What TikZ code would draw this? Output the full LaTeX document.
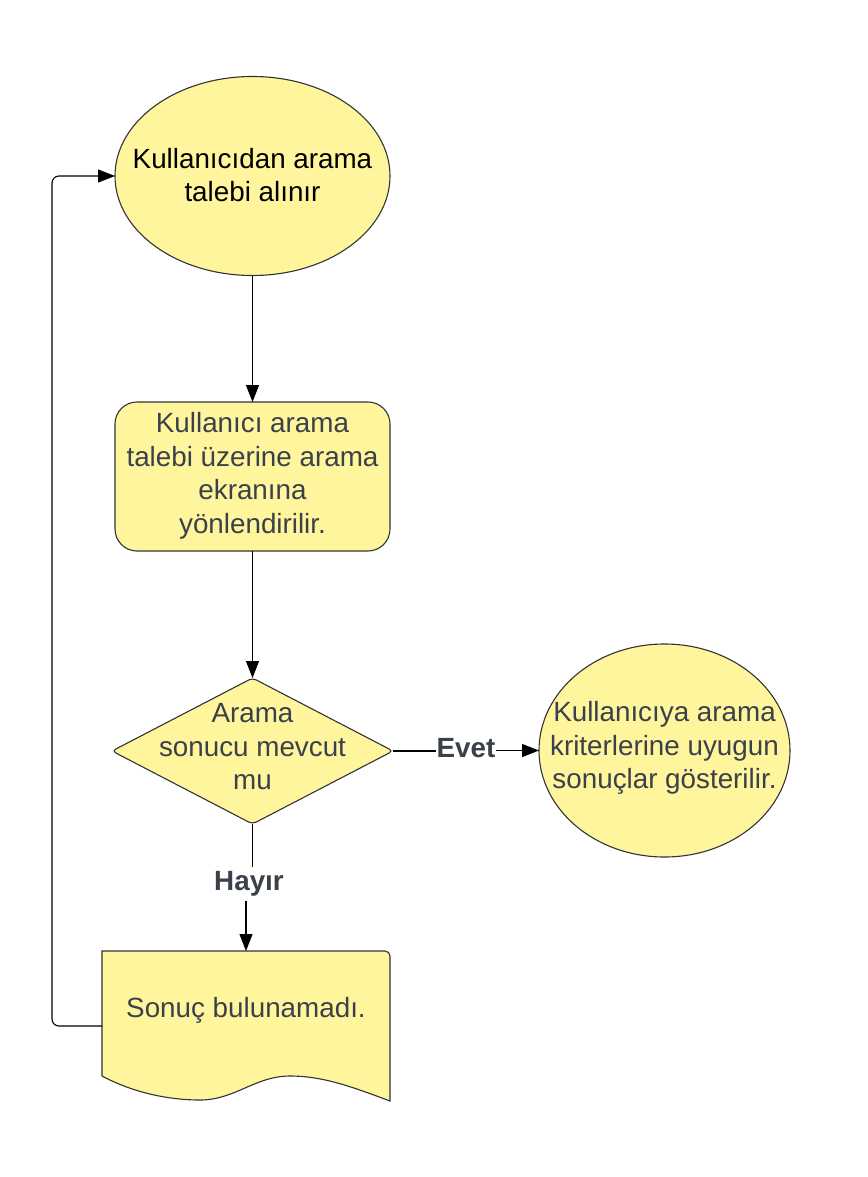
\documentclass[tikz,border=0pt]{standalone}
\usepackage{fontspec}
\setmainfont{Liberation Sans}
\usetikzlibrary{shapes.geometric,arrows.meta}
\definecolor{shapefill}{RGB}{255,245,157}
\definecolor{shapeline}{RGB}{51,51,51}
\definecolor{txtgray}{RGB}{58,65,74}
\tikzset{
  shapebase/.style={draw=shapeline, line width=1.1pt, fill=shapefill, inner sep=0pt, outer sep=0pt},
  txt/.style={align=center, text=txtgray, inner sep=0pt, font=\fontsize{27.8}{33.5}\selectfont},
  lbl/.style={text=txtgray, inner sep=0.5pt, font=\fontsize{27.8}{33.5}\selectfont\bfseries},
  conn/.style={draw=black, line width=1.1pt},
  arr/.style={conn, -{Triangle[length=17pt,width=13pt]}}
}
\begin{document}
\begin{tikzpicture}[x=1pt,y=-1pt]
\useasboundingbox (0,0) rectangle (867,1177);
\fill[white] (0,0) rectangle (867,1177);

% start ellipse
\node[shapebase, ellipse, minimum width=275pt, minimum height=199pt] (e) at (252.5,176) {};
\node[txt, text=black] (et) at (252.5,175) {Kullanıcıdan arama\\talebi alınır};

% rounded rectangle
\node[shapebase, rectangle, rounded corners=22pt, minimum width=275pt, minimum height=149pt] (r) at (252.5,476.5) {};
\node[txt] (rt) at (252.5,476) {Kullanıcı arama\\talebi üzerine arama\\ekranına\\yönlendirilir.};

% decision diamond
\node[shapebase, diamond, rounded corners=4pt, minimum width=281pt, minimum height=146pt] (d) at (252.5,751) {};
\node[txt] (dt) at (252.5,747) {Arama\\sonucu mevcut\\mu};

% result circle
\node[shapebase, ellipse, minimum width=251pt, minimum height=213pt] (c) at (664.5,750.5) {};
\node[txt] (ct) at (664.5,748) {Kullanıcıya arama\\kriterlerine uyugun\\sonuçlar gösterilir.};

% document shape
\node[rectangle, draw=none, inner sep=0pt, outer sep=0pt, minimum width=288pt, minimum height=150pt] (doc) at (246,1026) {};
\draw[shapebase] (102,1076) -- (102,951) [rounded corners=5pt] -- (390,951) [sharp corners] -- (390,1101)
  .. controls (350,1086) and (322,1076) .. (290,1076)
  .. controls (255,1076) and (235,1100) .. (200,1100)
  .. controls (165,1100) and (130,1091) .. (102,1076) -- cycle;
\node[txt] (doct) at (246,1010) {Sonuç bulunamadı.};

% labels
\node[lbl] (ev) at (466,748) {Evet};
\node[lbl, minimum height=33pt, inner sep=0pt] (hay) at (249,884) {Hayır};

% connectors
\draw[arr] (e.south) -- (r.north);
\draw[arr] (r.south) -- (d.north);
\draw[conn] (d.east) -- (d.east -| ev.west);
\draw[arr] (ev.east |- c.west) -- (c.west);
\draw[conn] (d.south) -- (d.south |- hay.north);
\draw[arr] (doc.north |- hay.south) -- (doc.north);
\draw[arr, rounded corners=7pt] (doc.west) -- ++(-50,0) |- (e.west);
\end{tikzpicture}
\end{document}
